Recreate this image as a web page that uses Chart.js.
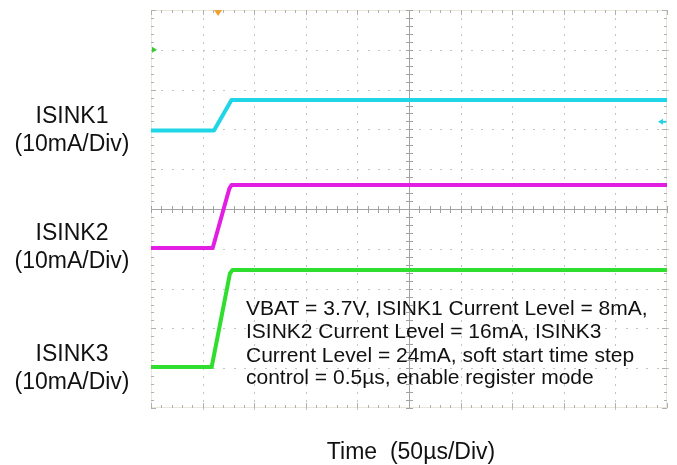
<!DOCTYPE html>
<html>
<head>
<meta charset="utf-8">
<script src="https://cdn.jsdelivr.net/npm/chart.js@4.4.1/dist/chart.umd.min.js"></script>
<style>
  html, body { margin: 0; padding: 0; background: #ffffff; }
  #wrap { width: 677px; height: 465px; }
</style>
</head>
<body>
<div id="wrap"><canvas id="c" width="677" height="465"></canvas></div>
<script>
// ---- Data (time in µs, level in screen divisions) ----
const timeUs      = [0, 61, 78, 500];
const isink1Div   = [1.97, 1.97, 2.74, 2.74];
const timeUs2     = [0, 59.8, 76, 78, 500];
const isink2Div   = [-0.98, -0.98, 0.52, 0.60, 0.60];
const timeUs3     = [0, 58.8, 76.5, 79, 500];
const isink3Div   = [-3.97, -3.97, -1.62, -1.53, -1.53];

const seriesNames = ["ISINK1", "ISINK2", "ISINK3"];
const channelLabels = [["ISINK1", "(10mA/Div)"], ["ISINK2", "(10mA/Div)"], ["ISINK3", "(10mA/Div)"]];
const noteLines = [
  "VBAT = 3.7V, ISINK1 Current Level = 8mA,",
  "ISINK2 Current Level = 16mA, ISINK3",
  "Current Level = 24mA, soft start time step",
  "control = 0.5\u00b5s, enable register mode"
];
const xTitle = "Time  (50\u00b5s/Div)";
const triggerTimeUs = 65;
const ch3RefDiv = 4;
const ch1RefDiv = 2.19;

function pts(xs, ys) { return xs.map((x, i) => ({ x: x, y: ys[i] })); }

const FONT = '"Liberation Sans", Arial, Helvetica, sans-serif';

const scopePlugin = {
  id: 'scope',
  beforeDatasetsDraw(chart) {
    const ctx = chart.ctx;
    const xs = chart.scales.x, ys = chart.scales.y;
    const a = chart.chartArea;
    ctx.save();
    // frame
    ctx.strokeStyle = '#ebe6da';
    ctx.lineWidth = 1;
    ctx.strokeRect(a.left + 0.5, a.top + 0.5, a.right - a.left - 1, a.bottom - a.top - 1);
    // grid dots
    ctx.fillStyle = '#c4c4c4';
    for (let i = 1; i < 10; i++) {
      if (i === 5) continue;
      const px = Math.round(xs.getPixelForValue(i * 50));
      for (let j = -25; j <= 25; j++) {
        const py = Math.round(ys.getPixelForValue(j / 5));
        ctx.fillRect(px, py, 1, 2);
      }
    }
    for (let k = -4; k <= 4; k++) {
      if (k === 0) continue;
      const py = Math.round(ys.getPixelForValue(k));
      for (let j = 0; j <= 50; j++) {
        const px = Math.round(xs.getPixelForValue(j * 10));
        ctx.fillRect(px, py, 2, 1);
      }
    }
    // frame ticks
    ctx.fillStyle = '#b0b0b0';
    for (let j = 0; j <= 50; j++) {
      const px = Math.round(xs.getPixelForValue(j * 10));
      const len = (j % 5 === 0) ? 5 : 3;
      ctx.fillRect(px, a.top, 1, len);
      ctx.fillRect(px, a.bottom - len, 1, len);
    }
    for (let j = -25; j <= 25; j++) {
      const py = Math.round(ys.getPixelForValue(j / 5));
      const len = (j % 5 === 0) ? 5 : 3;
      ctx.fillRect(a.left, py, len, 1);
      ctx.fillRect(a.right - len, py, len, 1);
    }
    // center axes
    const cx = Math.round(xs.getPixelForValue(250));
    const cy = Math.round(ys.getPixelForValue(0));
    ctx.fillStyle = '#a3a3a3';
    ctx.fillRect(a.left, cy, a.right - a.left, 1);
    ctx.fillRect(cx, a.top, 1, a.bottom - a.top);
    for (let j = 0; j <= 50; j++) {
      const px = Math.round(xs.getPixelForValue(j * 10));
      ctx.fillRect(px, cy - 3, 1, 7);
    }
    for (let j = -25; j <= 25; j++) {
      const py = Math.round(ys.getPixelForValue(j / 5));
      ctx.fillRect(cx - 3, py, 7, 1);
    }
    ctx.restore();
  },
  afterDraw(chart) {
    const ctx = chart.ctx;
    const xs = chart.scales.x, ys = chart.scales.y;
    const a = chart.chartArea;
    ctx.save();
    // trigger marker
    const tx = xs.getPixelForValue(triggerTimeUs);
    ctx.fillStyle = '#f0a030';
    ctx.beginPath();
    ctx.moveTo(tx - 4, a.top);
    ctx.lineTo(tx + 4, a.top);
    ctx.lineTo(tx, a.top + 6);
    ctx.closePath();
    ctx.fill();
    // ch ref marker (left)
    const gy = ys.getPixelForValue(ch3RefDiv);
    ctx.fillStyle = '#33cc33';
    ctx.beginPath();
    ctx.moveTo(a.left + 1, gy - 3);
    ctx.lineTo(a.left + 6, gy);
    ctx.lineTo(a.left + 1, gy + 3);
    ctx.closePath();
    ctx.fill();
    // ch1 marker (right)
    const cyy = ys.getPixelForValue(ch1RefDiv);
    ctx.fillStyle = '#22d3e3';
    ctx.beginPath();
    ctx.moveTo(a.right - 9, cyy);
    ctx.lineTo(a.right - 4, cyy - 3);
    ctx.lineTo(a.right - 4, cyy + 3);
    ctx.closePath();
    ctx.fill();
    ctx.fillRect(a.right - 5, cyy - 1, 4, 2);

    // channel labels
    ctx.fillStyle = '#111111';
    ctx.textAlign = 'center';
    ctx.textBaseline = 'alphabetic';
    ctx.font = '23px ' + FONT;
    const labelBase = [123, 240, 361];
    channelLabels.forEach((lines, i) => {
      ctx.fillText(lines[0], 72, labelBase[i]);
      ctx.fillText(lines[1], 72, labelBase[i] + 28);
    });
    // note
    ctx.textAlign = 'left';
    ctx.font = '21px ' + FONT;
    const noteBase = [315, 338, 361.5, 384];
    noteLines.forEach((s, i) => ctx.fillText(s, 246, noteBase[i]));
    // x title
    ctx.textAlign = 'center';
    ctx.font = '23px ' + FONT;
    ctx.fillText(xTitle, 411, 459);
    ctx.restore();
  }
};

new Chart(document.getElementById('c'), {
  type: 'line',
  data: {
    datasets: [
      { label: seriesNames[0], data: pts(timeUs, isink1Div), borderColor: '#1fd5e6', borderWidth: 4 },
      { label: seriesNames[1], data: pts(timeUs2, isink2Div), borderColor: '#e31ee3', borderWidth: 4 },
      { label: seriesNames[2], data: pts(timeUs3, isink3Div), borderColor: '#2fde2f', borderWidth: 4 }
    ]
  },
  options: {
    responsive: false,
    devicePixelRatio: 1,
    animation: false,
    layout: { padding: { left: 151, right: 10, top: 10, bottom: 57 } },
    elements: { point: { radius: 0 }, line: { tension: 0, borderJoinStyle: 'round', borderCapStyle: 'butt' } },
    plugins: { legend: { display: false }, tooltip: { enabled: false } },
    scales: {
      x: { type: 'linear', min: 0, max: 500, display: false },
      y: { type: 'linear', min: -5, max: 5, display: false }
    }
  },
  plugins: [scopePlugin]
});
</script>
</body>
</html>
